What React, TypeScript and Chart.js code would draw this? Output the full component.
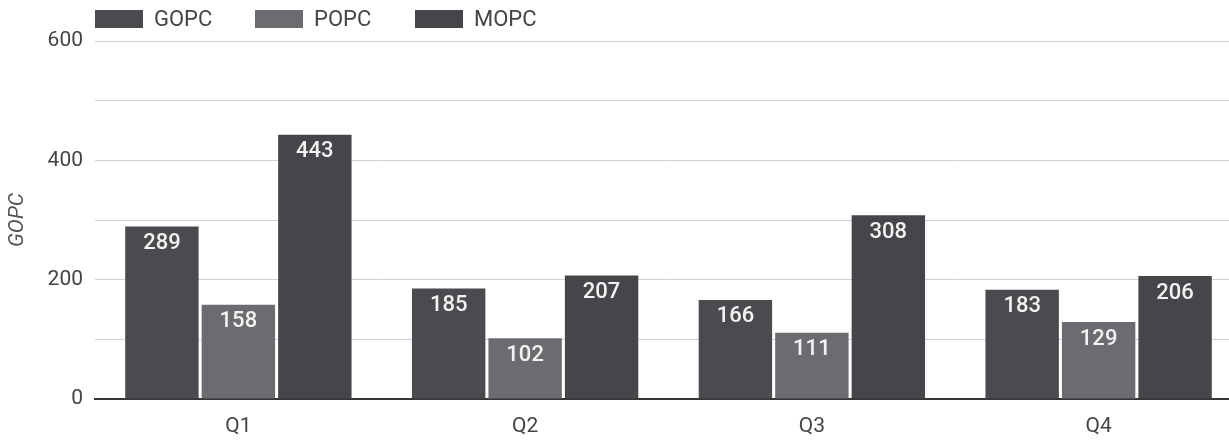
import React, { useEffect, useRef } from "react";
import { Chart, registerables } from "chart.js";

Chart.register(...registerables);

const quarters = ["Q1", "Q2", "Q3", "Q4"];
const gopc = [289, 185, 166, 183];
const popc = [158, 102, 111, 129];
const mopc = [443, 207, 308, 206];
const seriesNames = ["GOPC", "POPC", "MOPC"];
const seriesColors = ["#4b4b4f", "#6c6c70", "#46464a"];
const yTicks = [0, 200, 400, 600];

const FONT = "Roboto, 'Noto Sans', sans-serif";

// Value labels drawn inside the top of each bar
const barValueLabels = {
  id: "barValueLabels",
  afterDatasetsDraw(chart: any) {
    const ctx = chart.ctx;
    ctx.save();
    ctx.fillStyle = "#f2f2f2";
    ctx.font = `500 22px ${FONT}`;
    ctx.textAlign = "center";
    ctx.textBaseline = "middle";
    chart.data.datasets.forEach((ds: any, di: number) => {
      const meta = chart.getDatasetMeta(di);
      meta.data.forEach((bar: any, i: number) => {
        ctx.fillText(String(ds.data[i]), bar.x, bar.y + 17);
      });
    });
    ctx.restore();
  },
};

// Legend row along the top-left of the plot
const topLegend = {
  id: "topLegend",
  afterDraw(chart: any) {
    const ctx = chart.ctx;
    ctx.save();
    ctx.font = `22px ${FONT}`;
    ctx.textBaseline = "middle";
    ctx.textAlign = "left";
    const step = 160;
    const y = 10;
    chart.data.datasets.forEach((ds: any, i: number) => {
      const x = chart.chartArea.left + i * step;
      ctx.fillStyle = ds.backgroundColor;
      ctx.fillRect(x, y, 48, 18);
      ctx.fillStyle = "#454545";
      ctx.fillText(ds.label, x + 59, y + 10);
    });
    ctx.restore();
  },
};

export default function App() {
  const canvasRef = useRef<HTMLCanvasElement | null>(null);

  useEffect(() => {
    document.body.style.overflow = "hidden";
    const canvas = canvasRef.current;
    if (!canvas) return;
    const values = [gopc, popc, mopc];
    const chart = new Chart(canvas, {
      type: "bar",
      data: {
        labels: quarters,
        datasets: seriesNames.map((name, i) => ({
          label: name,
          data: values[i],
          backgroundColor: seriesColors[i],
          borderWidth: 0,
          categoryPercentage: 0.8,
          barPercentage: 0.96,
        })),
      },
      options: {
        animation: false,
        responsive: false,
        maintainAspectRatio: false,
        layout: { padding: { top: 41, right: 0, left: 0, bottom: 0 } },
        plugins: {
          legend: { display: false },
          tooltip: { enabled: false },
        },
        scales: {
          x: {
            afterFit: (scale: any) => {
              scale.height = 43;
            },
            grid: { display: false, drawTicks: false },
            border: { display: true, color: "#353535", width: 2 },
            ticks: {
              color: "#444",
              font: { family: FONT, size: 21 },
              padding: 15,
            },
          },
          y: {
            min: 0,
            max: 600,
            afterFit: (scale: any) => {
              scale.width = 95;
            },
            afterBuildTicks: (scale: any) => {
              const ticks = [];
              for (let v = 0; v <= 600; v += 100) ticks.push({ value: v });
              scale.ticks = ticks;
            },
            grid: { color: "#cfd0d8", lineWidth: 1, drawTicks: false },
            border: { display: false },
            ticks: {
              color: "#444",
              font: { family: FONT, size: 21 },
              padding: 12,
              callback: (v: any) => (yTicks.includes(Number(v)) ? String(v) : ""),
            },
            title: {
              display: true,
              text: "GOPC",
              color: "#555",
              font: { family: FONT, size: 21, style: "italic" },
              padding: { top: 5, bottom: 0 },
            },
          },
        },
      },
      plugins: [barValueLabels, topLegend],
    });
    return () => chart.destroy();
  }, []);

  return (
    <div style={{ position: "fixed", left: 0, top: 0, width: 1242, height: 442, background: "#fff" }}>
      <canvas ref={canvasRef} width={1242} height={442} style={{ display: "block" }} />
    </div>
  );
}
